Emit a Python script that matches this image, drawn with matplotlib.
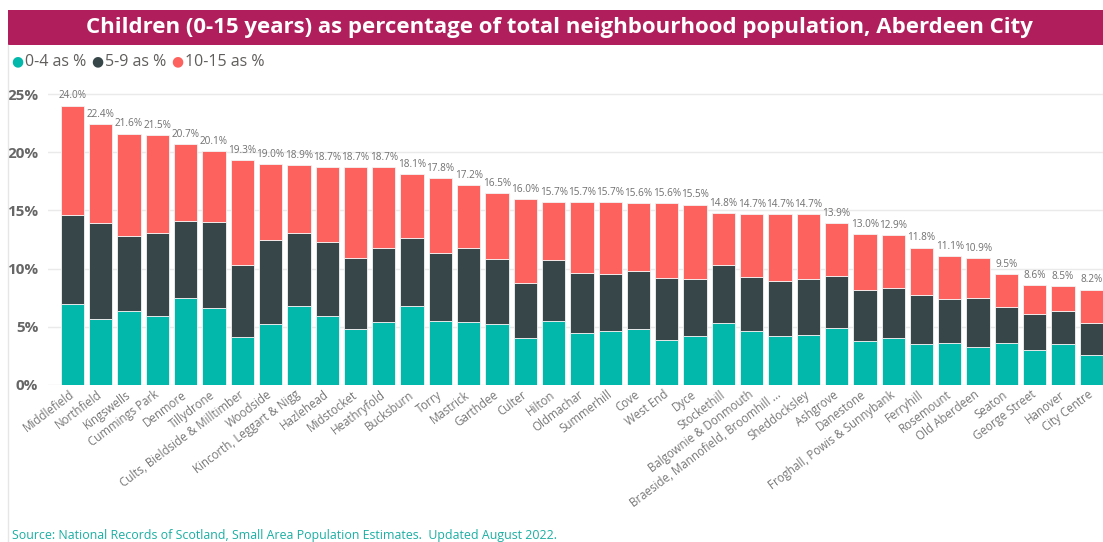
import matplotlib
matplotlib.use("Agg")
import matplotlib.pyplot as plt
from matplotlib.patches import Rectangle
from matplotlib.lines import Line2D
import numpy as np

plt.rcParams['font.family'] = ['Open Sans', 'DejaVu Sans']

neighbourhoods = ["Middlefield", "Northfield", "Kingswells", "Cummings Park", "Denmore", "Tillydrone",
                  "Cults, Bieldside & Milltimber", "Woodside", "Kincorth, Leggart & Nigg", "Hazlehead",
                  "Midstocket", "Heathryfold", "Bucksburn", "Torry", "Mastrick", "Garthdee", "Culter",
                  "Hilton", "Oldmachar", "Summerhill", "Cove", "West End", "Dyce", "Stockethill",
                  "Balgownie & Donmouth", "Braeside, Mannofield, Broomhill ...", "Sheddocksley",
                  "Ashgrove", "Danestone", "Froghall, Powis & Sunnybank", "Ferryhill", "Rosemount",
                  "Old Aberdeen", "Seaton", "George Street", "Hanover", "City Centre"]
age_0_4 = [7.0, 5.7, 6.4, 5.9, 7.5, 6.6, 4.1, 5.2, 6.8, 5.9, 4.8, 5.4, 6.8, 5.5, 5.4, 5.2, 4.0,
           5.5, 4.5, 4.6, 4.8, 3.9, 4.2, 5.3, 4.6, 4.2, 4.3, 4.9, 3.8, 4.0, 3.5, 3.6, 3.3, 3.6,
           3.0, 3.5, 2.6]
age_5_9 = [7.6, 8.2, 6.4, 7.2, 6.6, 7.4, 6.2, 7.3, 6.3, 6.4, 6.1, 6.4, 5.8, 5.8, 6.4, 5.6, 4.8,
           5.2, 5.1, 4.9, 5.0, 5.3, 4.9, 5.0, 4.7, 4.7, 4.8, 4.5, 4.4, 4.3, 4.2, 3.8, 4.2, 3.1,
           3.1, 2.9, 2.7]
totals = [24.0, 22.4, 21.6, 21.5, 20.7, 20.1, 19.3, 19.0, 18.9, 18.7, 18.7, 18.7, 18.1, 17.8,
          17.2, 16.5, 16.0, 15.7, 15.7, 15.7, 15.6, 15.6, 15.5, 14.8, 14.7, 14.7, 14.7, 13.9,
          13.0, 12.9, 11.8, 11.1, 10.9, 9.5, 8.6, 8.5, 8.2]
age_10_15 = [round(t - a - b, 1) for t, a, b in zip(totals, age_0_4, age_5_9)]
series_names = ["0-4 as %", "5-9 as %", "10-15 as %"]
colors = ["#01B8AA", "#374649", "#FD625E"]
yticks = [0, 5, 10, 15, 20, 25]

W, H = 1103, 542
fig = plt.figure(figsize=(W / 100, H / 100), dpi=100)

# Title banner
fig.patches.append(Rectangle((8 / W, 1 - 45 / H), 1 - 8 / W, 35 / H, transform=fig.transFigure,
                             facecolor="#B01F5B", edgecolor="none", zorder=0))
fig.text(559 / W, 1 - 27.5 / H, "Children (0-15 years) as percentage of total neighbourhood population, Aberdeen City",
         ha="center", va="center", color="white", fontsize=16, fontweight="bold")
# left border
fig.lines.append(Line2D([7.5 / W, 7.5 / W], [0, 1 - 45 / H], transform=fig.transFigure,
                        color="#E6E6E6", lw=1))

# Legend
lx = [17, 97, 177]
for x0, name, c in zip(lx, series_names, colors):
    fig.text(x0 / W, 1 - 62 / H, "\u25CF", color=c, fontsize=10, ha="center", va="center")
    fig.text((x0 + 8) / W, 1 - 62 / H, name, color="#605E5C", fontsize=11.5, ha="left", va="center")

ymax = 25.6
y0_px, y25_px = 385, 94
px_per = (y0_px - y25_px) / 25
top_px = y0_px - ymax * px_per
ax = fig.add_axes([48 / W, 1 - y0_px / H, 1 - 48 / W, (y0_px - top_px) / H])

x = np.arange(len(neighbourhoods))
bw = 0.82
bottom = np.zeros(len(x))
for vals, c in zip([age_0_4, age_5_9, age_10_15], colors):
    ax.bar(x, vals, bw, bottom=bottom, color=c, edgecolor="#F4F4F4", linewidth=0.6, zorder=3)
    bottom += np.array(vals)

for xi, t in zip(x, totals):
    ax.annotate(f"{t:.1f}%", (xi, t), xytext=(0, 3), textcoords="offset points",
                ha="center", va="bottom", fontsize=7.2, color="#707070", zorder=4)

left_lim = (48 - 72.5) / 28.3
right_lim = (1103 - 72.5) / 28.3
ax.set_xlim(left_lim, right_lim)
ax.set_ylim(0, ymax)
ax.set_yticks(yticks)
ax.set_yticklabels([f"{v}%" for v in yticks], fontsize=11, fontweight="bold", color="#666666")
ax.tick_params(axis="y", length=0, pad=7)
ax.set_xticks(x)
ax.set_xticklabels(neighbourhoods, rotation=37, ha="right", va="center", rotation_mode="anchor",
                   fontsize=8.3, color="#777777")
ax.tick_params(axis="x", length=0, pad=6)
for s in ax.spines.values():
    s.set_visible(False)
ax.grid(axis="y", color="#EAEAEA", lw=1, zorder=0)
ax.set_axisbelow(True)

fig.text(12 / W, 1 - 535 / H, "Source: National Records of Scotland, Small Area Population Estimates.  Updated August 2022.",
         color="#1BAFA3", fontsize=8.9, ha="left", va="center")

fig.savefig("out.png", dpi=100)
